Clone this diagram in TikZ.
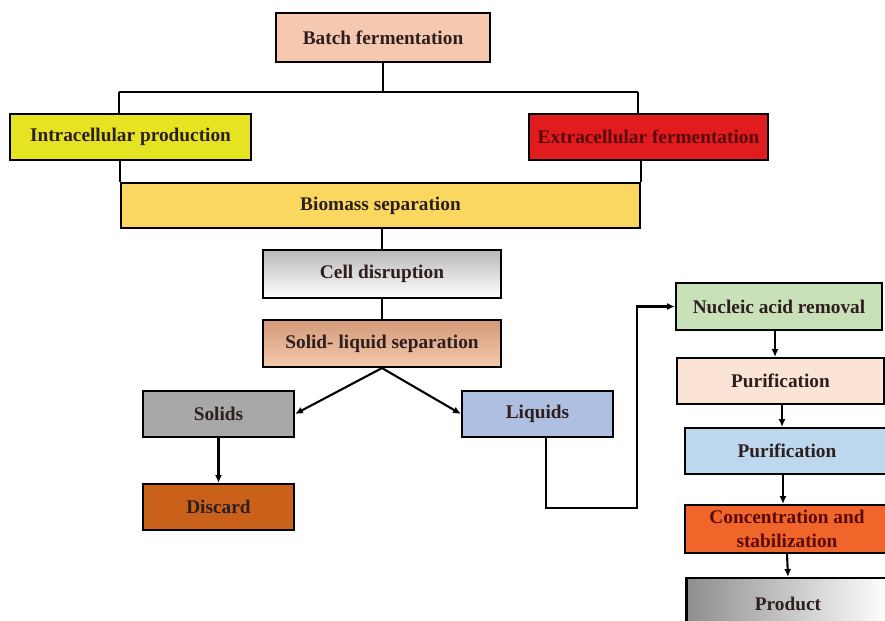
\documentclass[tikz,border=0pt]{standalone}
\usepackage{fontspec}
\setmainfont{Liberation Serif}
\usepackage{tikz}
\usepackage{xcolor}
\usetikzlibrary{calc, positioning, arrows.meta}
\definecolor{InkBrown}{HTML}{2E1F1F}
\definecolor{DeepMaroon}{HTML}{5A0A0A}
\definecolor{PeachSkin}{HTML}{F5C8AF}
\definecolor{LemonLime}{HTML}{E6E422}
\definecolor{SignalRed}{HTML}{E21B1F}
\definecolor{ButterGold}{HTML}{FAD75E}
\definecolor{SilverMist}{HTML}{B8B8B8}
\definecolor{ClayTop}{HTML}{D29A78}
\definecolor{ClayBottom}{HTML}{F6C9AB}
\definecolor{StoneGray}{HTML}{A8A8A8}
\definecolor{PowderBlue}{HTML}{AEBFE2}
\definecolor{BurntOrange}{HTML}{C9611B}
\definecolor{SageGreen}{HTML}{C9E1B8}
\definecolor{ShellPink}{HTML}{FBE4D6}
\definecolor{SkyWash}{HTML}{BDD7EE}
\definecolor{TangerineGlow}{HTML}{F0652A}
\definecolor{SlateShade}{HTML}{8E8E8E}

\begin{document}
\begin{tikzpicture}[x=0.02cm, y=0.02cm,
    stagebox/.style={draw=black, line width=1.2pt, inner sep=1pt, align=center,
        text=InkBrown, font=\bfseries\fontsize{11}{13.5}\selectfont},
    link/.style={draw=black, line width=1.2pt},
    flow/.style={link, -{Latex[length=4.5pt, width=4pt]}}]
        \path[use as bounding box, clip] (0,0) rectangle (885,-621);

        % top of the flow
        \node[stagebox, fill=PeachSkin, minimum width=4.28cm, minimum height=0.98cm] (batch) at (383,-37.5) {Batch fermentation};
        \node[stagebox, fill=LemonLime, minimum width=4.82cm, minimum height=0.92cm] (intra) at (130.5,-137) {Intracellular production};
        \node[stagebox, fill=SignalRed, text=DeepMaroon, minimum width=4.78cm, minimum height=0.92cm] (extra) at (648.5,-137) {Extracellular fermentation};
        \node[stagebox, fill=ButterGold, minimum width=10.38cm, minimum height=0.90cm] (biomass) at (380.5,-205.5) {Biomass separation};

        \coordinate (splitL) at (119,-92);
        \coordinate (splitR) at (638,-92);
        \draw[link] (batch.south) -- (batch.south |- splitL);
        \draw[link] (splitL) -- (splitR);
        \draw[link] (splitL) -- (splitL |- intra.north);
        \draw[link] (splitR) -- (splitR |- extra.north);
        \draw[link] (biomass.north west) -- (biomass.north west |- intra.south);
        \draw[link] (biomass.north east) -- (biomass.north east |- extra.south);

        % downstream processing
        \node[stagebox, top color=SilverMist, bottom color=white, minimum width=4.76cm, minimum height=0.96cm] (cell) at (382,-274) {Cell disruption};
        \node[stagebox, top color=ClayTop, bottom color=ClayBottom, minimum width=4.76cm, minimum height=0.94cm] (solliq) at (382,-343.5) {Solid- liquid separation};
        \node[stagebox, fill=StoneGray, minimum width=3.02cm, minimum height=0.92cm] (solids) at (218.5,-414) {Solids};
        \node[stagebox, fill=PowderBlue, minimum width=3.02cm, minimum height=0.92cm] (liquids) at (537.5,-414) {Liquids};
        \node[stagebox, fill=BurntOrange, minimum width=3.02cm, minimum height=0.92cm] (discard) at (218.5,-507) {Discard};

        \draw[link] (cell.north |- biomass.south) -- (cell.north);
        \draw[link] (cell.south) -- (solliq.north);
        \draw[flow] (solliq.south) -- (solids.east);
        \draw[flow] (solliq.south) -- (liquids.west);
        \draw[flow] (solids.south) -- (discard.north);

        % right column
        \node[stagebox, fill=SageGreen, minimum width=4.12cm, minimum height=0.94cm] (nucleic) at (779,-306.5) {Nucleic acid removal};
        \node[stagebox, fill=ShellPink, minimum width=4.14cm, minimum height=0.92cm] (purifA) at (780.5,-381) {Purification};
        \node[stagebox, fill=SkyWash, minimum width=4.08cm, minimum height=0.92cm] (purifB) at (787,-451) {Purification};
        \node[stagebox, fill=TangerineGlow, text=DeepMaroon, minimum width=4.08cm, minimum height=0.96cm] (conc) at (787,-529) {Concentration and\\stabilization};
        \node[stagebox, left color=SlateShade, right color=white, minimum width=4.06cm, minimum height=1.04cm] (product) at (788,-604) {Product};

        \coordinate (liqOut) at ($(liquids.south)+(8.5,0)$);
        \coordinate (bendA) at (637,-508);
        \coordinate (nucOut) at ($(nucleic.south)+(-4,0)$);
        \coordinate (purAOut) at ($(purifA.south)+(1.5,0)$);
        \coordinate (purBOut) at ($(purifB.south)+(-4,0)$);
        \draw[flow] (liqOut) |- (bendA) |- (nucleic.west);
        \draw[flow] (nucOut) -- (nucOut |- purifA.north);
        \draw[flow] (purAOut) -- (purAOut |- purifB.north);
        \draw[flow] (purBOut) -- (purBOut |- conc.north);
        \draw[flow] (conc.south) -- (product.north);
\end{tikzpicture}
\end{document}
